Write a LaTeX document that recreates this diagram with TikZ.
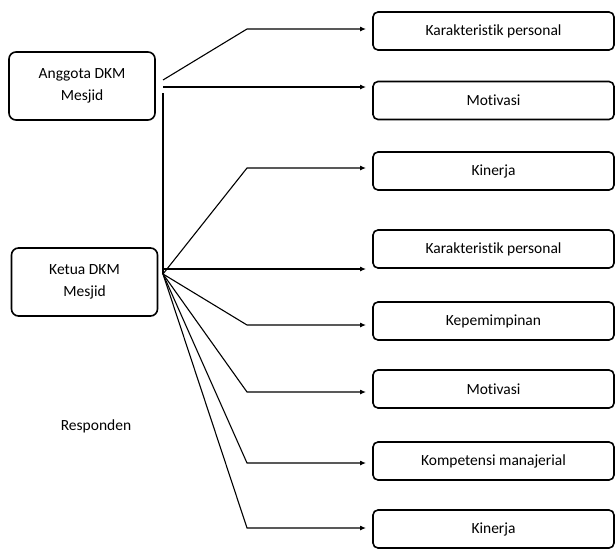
\documentclass[tikz,border=0pt]{standalone}
\usepackage{fontspec}
\setmainfont[Ligatures=NoCommon]{Carlito}
\usetikzlibrary{arrows.meta}
\begin{document}
\begin{tikzpicture}[x=1pt,y=-1pt,
  rbox/.style={draw,line width=1.6pt,rounded corners=5pt,minimum width=241pt,minimum height=38pt,inner sep=0pt,font=\fontsize{15.5}{18}\selectfont},
  lbox/.style={draw,line width=1.6pt,rounded corners=7pt,minimum width=146pt,minimum height=68pt,inner sep=0pt,align=center,font=\fontsize{15.5}{22}\selectfont},
  conn/.style={line width=1.1pt},
  arr/.style={conn,-{Latex[length=6pt,width=5pt]}}]
\useasboundingbox (0,0) rectangle (616,549);
\node[lbox] (ang) at (82,86) {Anggota DKM\\Mesjid};
\node[lbox] (ket) at (84.5,282) {Ketua DKM\\Mesjid};
\node[font=\fontsize{15.5}{18}\selectfont] (resp) at (96,426) {Responden};
\node[rbox] (r1) at (493.5,31) {Karakteristik personal};
\node[rbox] (r2) at (493.5,100.5) {Motivasi};
\node[rbox] (r3) at (493.5,171) {Kinerja};
\node[rbox] (r4) at (493.5,249) {Karakteristik personal};
\node[rbox] (r5) at (493.5,321) {Kepemimpinan};
\node[rbox] (r6) at (493.5,389) {Motivasi};
\node[rbox] (r7) at (493.5,461) {Kompetensi manajerial};
\node[rbox] (r8) at (493.5,529) {Kinerja};
% source points
\coordinate (a1) at (163,80);
\coordinate (a2) at (163,87);
\coordinate (a3) at (163,93);
\coordinate (k0) at (163,274);
\coordinate (k4) at (163,269);
% knees
\coordinate (n1) at (247,29);
\coordinate (n3) at (247,168);
\coordinate (n5) at (247,325);
\coordinate (n6) at (247,392);
\coordinate (n7) at (247,463);
\coordinate (n8) at (247,528);
% tips
\coordinate (t1) at (366,29);
\coordinate (t2) at (366,87);
\coordinate (t3) at (366,168);
\coordinate (t4) at (366,269);
\coordinate (t5) at (366,325);
\coordinate (t6) at (366,392);
\coordinate (t7) at (366,463);
\coordinate (t8) at (366,528);
\draw[arr] (a1) -- (n1) -- (t1);
\draw[arr] (a2) -- (t2);
\draw[conn] (a3) -- (k0);
\draw[arr] (k0) -- (n3) -- (t3);
\draw[arr] (k4) -- (t4);
\draw[arr] (k0) -- (n5) -- (t5);
\draw[arr] (k0) -- (n6) -- (t6);
\draw[arr] (k0) -- (n7) -- (t7);
\draw[arr] (k0) -- (n8) -- (t8);
\end{tikzpicture}
\end{document}
